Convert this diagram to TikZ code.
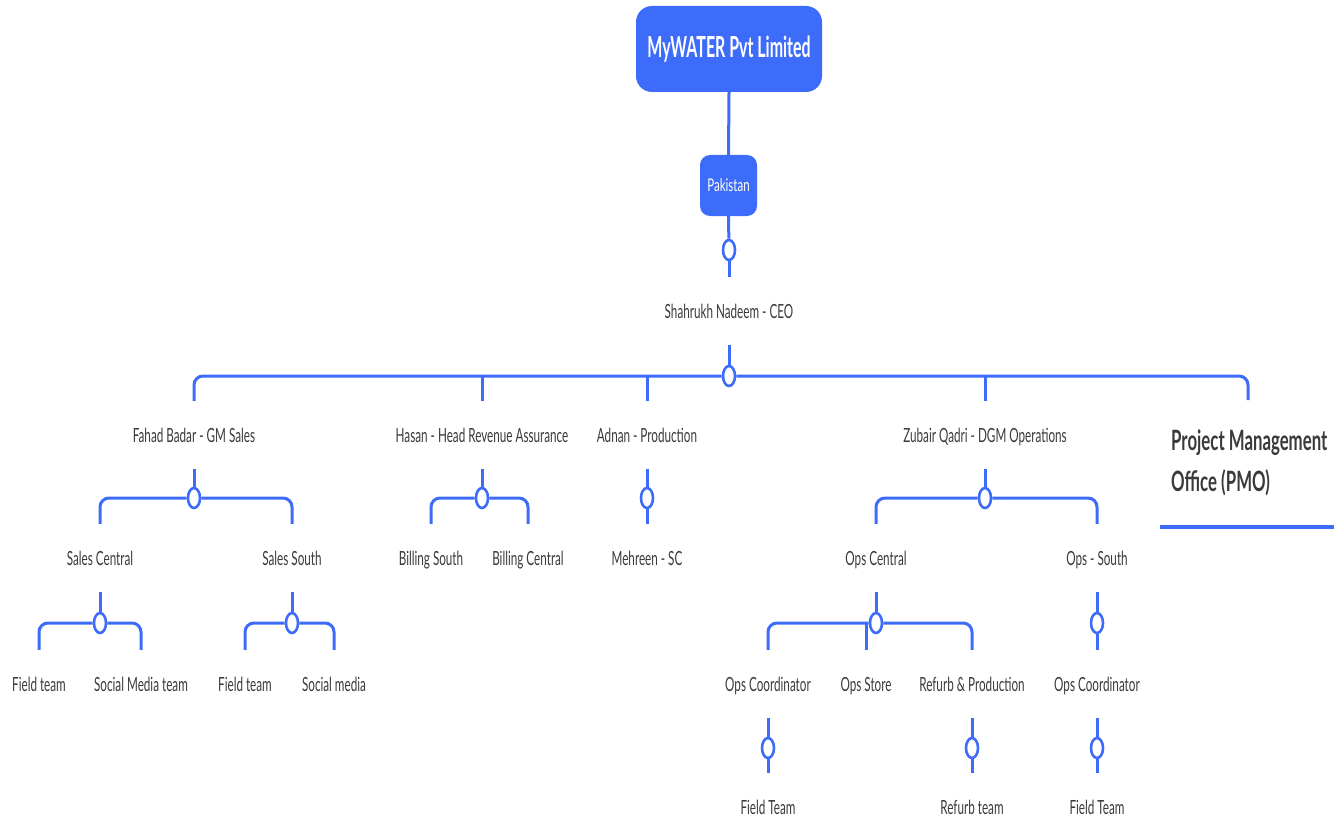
\documentclass[tikz,border=0pt]{standalone}
\usepackage{fontspec}
\setmainfont{Lato}[FakeStretch=0.6]
\newfontfamily\titlefont{Lato}[FakeStretch=0.55]
\newfontfamily\pakfont{Lato}[FakeStretch=0.66]
\usetikzlibrary{shapes.geometric}
\definecolor{mblue}{HTML}{3D6BFA}
\definecolor{mtext}{HTML}{3A3A3A}
\begin{document}
\begin{tikzpicture}[x=1pt,y=-1pt,
  lbl/.style={font=\fontsize{19.5}{23}\selectfont, text=mtext, minimum height=68, inner sep=0, text height=14, text depth=0},
  hub/.style={ellipse, draw=mblue, fill=white, line width=2.6, minimum width=12, minimum height=20, inner sep=0},
  conn/.style={draw=mblue, line width=3},
  bar/.style={conn, rounded corners=9},
  topbox/.style={fill=mblue, text=white, rounded corners=16, minimum width=186, minimum height=86, inner sep=0, font=\titlefont\fontsize{29}{34}\selectfont\bfseries},
  pakbox/.style={fill=mblue, text=white, rounded corners=10, minimum width=57, minimum height=61, inner sep=0, font=\pakfont\fontsize{17.5}{20}\selectfont},
  pmo/.style={font=\fontsize{28}{41}\selectfont\bfseries, text=mtext, align=left, inner sep=0}]
\useasboundingbox (0,0) rectangle (1340,821);
% nodes
\node[topbox] (co) at (729,49) {MyWATER Pvt Limited};
\node[pakbox] (pak) at (728.5,185.5) {Pakistan};
\node[hub] (h0) at (729,250) {};
\node[lbl] (ceo) at (729,311) {Shahrukh Nadeem - CEO};
\node[hub] (h1) at (729,376) {};
\node[lbl] (fahad) at (194,435) {Fahad Badar - GM Sales};
\node[lbl] (hasan) at (482,435) {Hasan - Head Revenue Assurance};
\node[lbl] (adnan) at (647,435) {Adnan - Production};
\node[lbl] (zubair) at (985,435) {Zubair Qadri - DGM Operations};
\coordinate (pmoend) at (1248,400);
\node[pmo, anchor=west] (pmoN) at (1171,463) {Project Management\\Office (PMO)};
\coordinate (ul1) at (1160,527);
\coordinate (ul2) at (1334,527);
\node[hub] (h2a) at (194,498) {};
\node[hub] (h2b) at (482,498) {};
\node[hub] (h2c) at (647,498) {};
\node[hub] (h2d) at (985,498) {};
\node[lbl] (salesc) at (100,558) {Sales Central};
\node[lbl] (saless) at (292,558) {Sales South};
\node[lbl] (bills) at (431,558) {Billing South};
\node[lbl] (billc) at (528,558) {Billing Central};
\node[lbl] (mehreen) at (647,558) {Mehreen - SC};
\node[lbl] (opsc) at (876,558) {Ops Central};
\node[lbl] (opss) at (1097,558) {Ops - South};
\node[hub] (h3a) at (100,623) {};
\node[hub] (h3b) at (292,623) {};
\node[hub] (h3c) at (876,623) {};
\node[hub] (h3d) at (1097,623) {};
\node[lbl] (ft1) at (39,684) {Field team};
\node[lbl] (smt) at (141,684) {Social Media team};
\node[lbl] (ft2) at (245,684) {Field team};
\node[lbl] (sm) at (334,684) {Social media};
\node[lbl] (oc1) at (768,684) {Ops Coordinator};
\node[lbl] (ost) at (866,684) {Ops Store};
\node[lbl] (rp) at (972,684) {Refurb \& Production};
\node[lbl] (oc2) at (1097,684) {Ops Coordinator};
\node[hub] (h4a) at (768,748) {};
\node[hub] (h4b) at (972,748) {};
\node[hub] (h4c) at (1097,748) {};
\node[lbl] (ft3) at (768,807) {Field Team};
\node[lbl] (rt) at (972,807) {Refurb team};
\node[lbl] (ft4) at (1097,807) {Field Team};
% connectors
\draw[conn] (co.south) -- (pak.north);
\draw[conn] (pak.south) -- (h0);
\draw[conn] (h0) -- (ceo.north);
\draw[conn] (ceo.south) -- (h1);
\draw[bar] (h1) -| (fahad.north);
\draw[bar] (h1) -| (pmoend);
\draw[conn] (hasan.north |- h1) -- (hasan.north);
\draw[conn] (adnan.north |- h1) -- (adnan.north);
\draw[conn] (zubair.north |- h1) -- (zubair.north);
\draw[conn, line width=4] (ul1) -- (ul2);
% level 2
\draw[conn] (fahad.south) -- (h2a);
\draw[bar] (h2a) -| (salesc.north);
\draw[bar] (h2a) -| (saless.north);
\draw[conn] (hasan.south) -- (h2b);
\draw[bar] (h2b) -| (bills.north);
\draw[bar] (h2b) -| (billc.north);
\draw[conn] (adnan.south) -- (h2c);
\draw[conn] (h2c) -- (mehreen.north);
\draw[conn] (zubair.south) -- (h2d);
\draw[bar] (h2d) -| (opsc.north);
\draw[bar] (h2d) -| (opss.north);
% level 3
\draw[conn] (salesc.south) -- (h3a);
\draw[bar] (h3a) -| (ft1.north);
\draw[bar] (h3a) -| (smt.north);
\draw[conn] (saless.south) -- (h3b);
\draw[bar] (h3b) -| (ft2.north);
\draw[bar] (h3b) -| (sm.north);
\draw[conn] (opsc.south) -- (h3c);
\draw[bar] (h3c) -| (oc1.north);
\draw[bar] (h3c) -| (rp.north);
\draw[conn] (ost.north |- h3c) -- (ost.north);
\draw[conn] (opss.south) -- (h3d);
\draw[conn] (h3d) -- (oc2.north);
% level 4
\draw[conn] (oc1.south) -- (h4a);
\draw[conn] (h4a) -- (ft3.north);
\draw[conn] (rp.south) -- (h4b);
\draw[conn] (h4b) -- (rt.north);
\draw[conn] (oc2.south) -- (h4c);
\draw[conn] (h4c) -- (ft4.north);
\end{tikzpicture}
\end{document}
